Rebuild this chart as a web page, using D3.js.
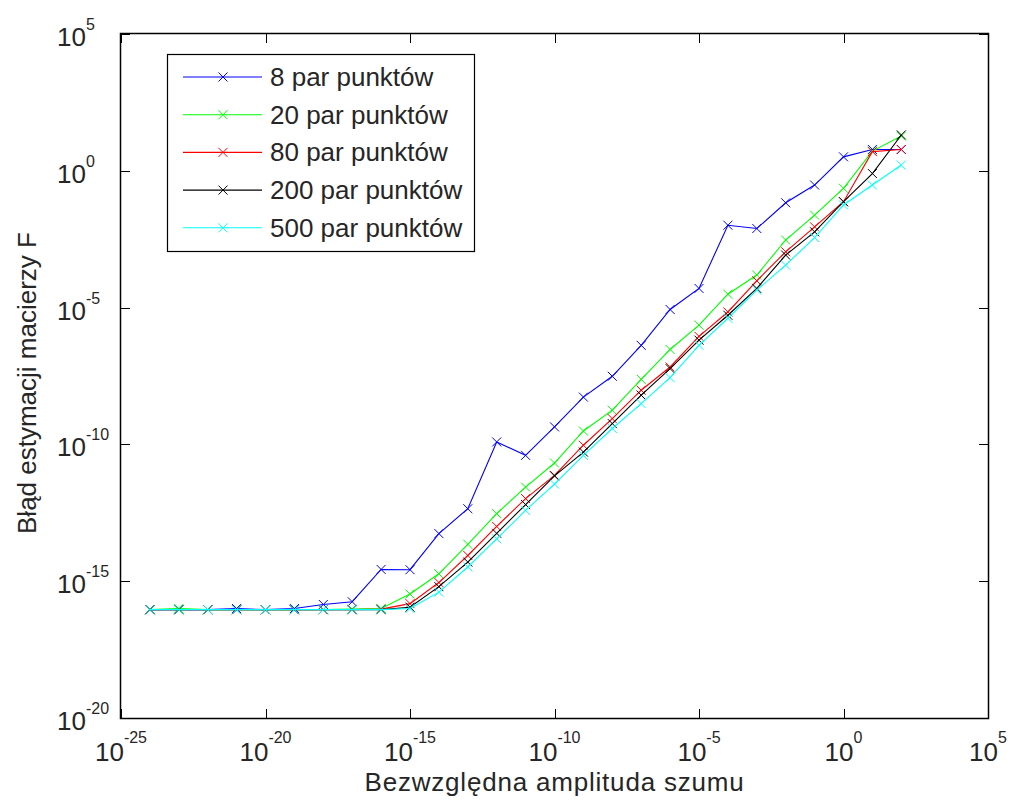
<!DOCTYPE html>
<html>
<head>
<meta charset="utf-8">
<script src="https://cdn.jsdelivr.net/npm/d3@7"></script>
<style>
  body { margin: 0; background: #fff; }
  text { font-family: "Liberation Sans", Arial, sans-serif; fill: #262626; }
</style>
</head>
<body>
<div id="chart"></div>
<script>
// noise amplitudes (x), one per decade
const noise = [1e-24, 1e-23, 1e-22, 1e-21, 1e-20, 1e-19, 1e-18, 1e-17, 1e-16, 1e-15,
  1e-14, 1e-13, 1e-12, 1e-11, 1e-10, 1e-9, 1e-8, 1e-7, 1e-6, 1e-5,
  1e-4, 1e-3, 1e-2, 1e-1, 1e0, 1e1, 1e2];

// estimation error as log10 values
const err8 = [-16.04, -16.04, -16.04, -16.0, -16.04, -16.0, -15.85, -15.75, -14.57, -14.58,
  -13.26, -12.35, -9.91, -10.40, -9.36, -8.27, -7.51, -6.38, -5.07, -4.30,
  -1.99, -2.11, -1.17, -0.52, 0.51, 0.78, 0.78];
const err20 = [-16.04, -16.0, -16.04, -16.04, -16.04, -16.04, -16.04, -16.02, -16.0, -15.47,
  -14.73, -13.65, -12.53, -11.56, -10.68, -9.51, -8.75, -7.62, -6.53, -5.64,
  -4.51, -3.81, -2.53, -1.62, -0.64, 0.72, 1.27];
const err80 = [-16.04, -16.04, -16.04, -16.04, -16.04, -16.04, -16.04, -16.04, -16.02, -15.82,
  -15.05, -14.06, -13.0, -11.98, -11.13, -10.03, -9.06, -8.02, -7.17, -6.05,
  -5.16, -4.02, -2.96, -2.05, -1.13, 0.70, 0.78];
const err200 = [-16.04, -16.04, -16.04, -16.04, -16.04, -16.04, -16.04, -16.04, -16.04, -15.95,
  -15.20, -14.30, -13.25, -12.20, -11.15, -10.28, -9.24, -8.20, -7.23, -6.19,
  -5.28, -4.30, -3.08, -2.23, -1.13, -0.10, 1.31];
const err500 = [-16.04, -16.04, -16.04, -16.04, -16.04, -16.04, -16.04, -16.04, -16.04, -16.0,
  -15.40, -14.48, -13.45, -12.41, -11.45, -10.40, -9.42, -8.51, -7.56, -6.38,
  -5.39, -4.36, -3.45, -2.44, -1.25, -0.52, 0.21];

const seriesNames = ["8 par punktów", "20 par punktów", "80 par punktów", "200 par punktów", "500 par punktów"];
const seriesColors = ["#0000ff", "#00ff00", "#ff0000", "#000000", "#00ffff"];
const seriesValues = [err8, err20, err80, err200, err500];

const xTickExp = [-25, -20, -15, -10, -5, 0, 5];
const yTickExp = [-20, -15, -10, -5, 0, 5];

const width = 1011, height = 800;
const margin = { left: 121, top: 34, right: 23, bottom: 82 };

const svg = d3.select("#chart").append("svg")
  .attr("width", width)
  .attr("height", height);

const x = d3.scaleLog().domain([1e-25, 1e5]).range([margin.left, width - margin.right]);
const y = d3.scaleLog().domain([1e-20, 1e5]).range([height - margin.bottom, margin.top]);

const x0 = margin.left, x1 = width - margin.right;
const y0 = height - margin.bottom, y1 = margin.top;

// ticks on all four sides, pointing inwards
const tickLen = 9;
const ticks = svg.append("g").attr("stroke", "#000").attr("stroke-width", 1)
  .attr("shape-rendering", "crispEdges");
xTickExp.forEach(e => {
  const px = Math.round(x(Math.pow(10, e))) + 0.5;
  ticks.append("line").attr("x1", px).attr("x2", px).attr("y1", y0).attr("y2", y0 - tickLen);
  ticks.append("line").attr("x1", px).attr("x2", px).attr("y1", y1).attr("y2", y1 + tickLen);
});
yTickExp.forEach(e => {
  const py = Math.round(y(Math.pow(10, e))) + 0.5;
  ticks.append("line").attr("x1", x0).attr("x2", x0 + tickLen).attr("y1", py).attr("y2", py);
  ticks.append("line").attr("x1", x1).attr("x2", x1 - tickLen).attr("y1", py).attr("y2", py);
});

// tick labels
xTickExp.forEach(e => {
  const t = svg.append("text")
    .attr("x", x(Math.pow(10, e)))
    .attr("y", 761)
    .attr("text-anchor", "middle")
    .style("font-size", "26px");
  t.append("tspan").text("10");
  t.append("tspan").attr("dy", -18).style("font-size", "16px").text(e);
});
yTickExp.forEach(e => {
  const t = svg.append("text")
    .attr("x", 57)
    .attr("y", y(Math.pow(10, e)) + 12)
    .style("font-size", "26px");
  t.append("tspan").text("10");
  t.append("tspan").attr("dy", -16).style("font-size", "16px").text(e);
});

// series
const line = d3.line()
  .x((d, i) => x(noise[i]))
  .y(d => y(Math.pow(10, d)));

const marker = (g, cx, cy, color) => {
  const s = 4.5;
  g.append("path")
    .attr("d", `M${cx - s},${cy - s}L${cx + s},${cy + s}M${cx - s},${cy + s}L${cx + s},${cy - s}`)
    .attr("stroke", color)
    .attr("stroke-width", 1)
    .attr("fill", "none");
};

seriesValues.forEach((vals, si) => {
  const g = svg.append("g");
  g.append("path")
    .datum(vals)
    .attr("d", line)
    .attr("fill", "none")
    .attr("stroke", seriesColors[si])
    .attr("stroke-width", 1.1);
  vals.forEach((v, i) => marker(g, x(noise[i]), y(Math.pow(10, v)), seriesColors[si]));
});

// axes box
svg.append("rect")
  .attr("x", x0 - 0.5).attr("y", y1 - 0.5)
  .attr("width", x1 - x0 + 1).attr("height", y0 - y1 + 1)
  .attr("fill", "none")
  .attr("stroke", "#000")
  .attr("stroke-width", 1.5);

// legend
const legend = svg.append("g");
legend.append("rect")
  .attr("x", 167.5).attr("y", 54.5)
  .attr("width", 307).attr("height", 197)
  .attr("fill", "#fff")
  .attr("stroke", "#000")
  .attr("stroke-width", 1.2);
seriesNames.forEach((name, i) => {
  const ly = 77 + i * 37.7;
  legend.append("line")
    .attr("x1", 183).attr("x2", 262)
    .attr("y1", ly).attr("y2", ly)
    .attr("stroke", seriesColors[i])
    .attr("stroke-width", 1.1);
  marker(legend, 223, ly, seriesColors[i]);
  legend.append("text")
    .attr("x", 270)
    .attr("y", ly + 9)
    .style("font-size", "26px")
    .text(name);
});

// axis titles
svg.append("text")
  .attr("x", (x0 + x1) / 2)
  .attr("y", 791)
  .attr("text-anchor", "middle")
  .style("font-size", "26px")
  .style("letter-spacing", "0.8px")
  .text("Bezwzględna amplituda szumu");

svg.append("text")
  .attr("transform", `translate(36, ${(y0 + y1) / 2 + 7}) rotate(-90)`)
  .attr("text-anchor", "middle")
  .style("font-size", "26px")
  .text("Błąd estymacji macierzy F");
</script>
</body>
</html>
